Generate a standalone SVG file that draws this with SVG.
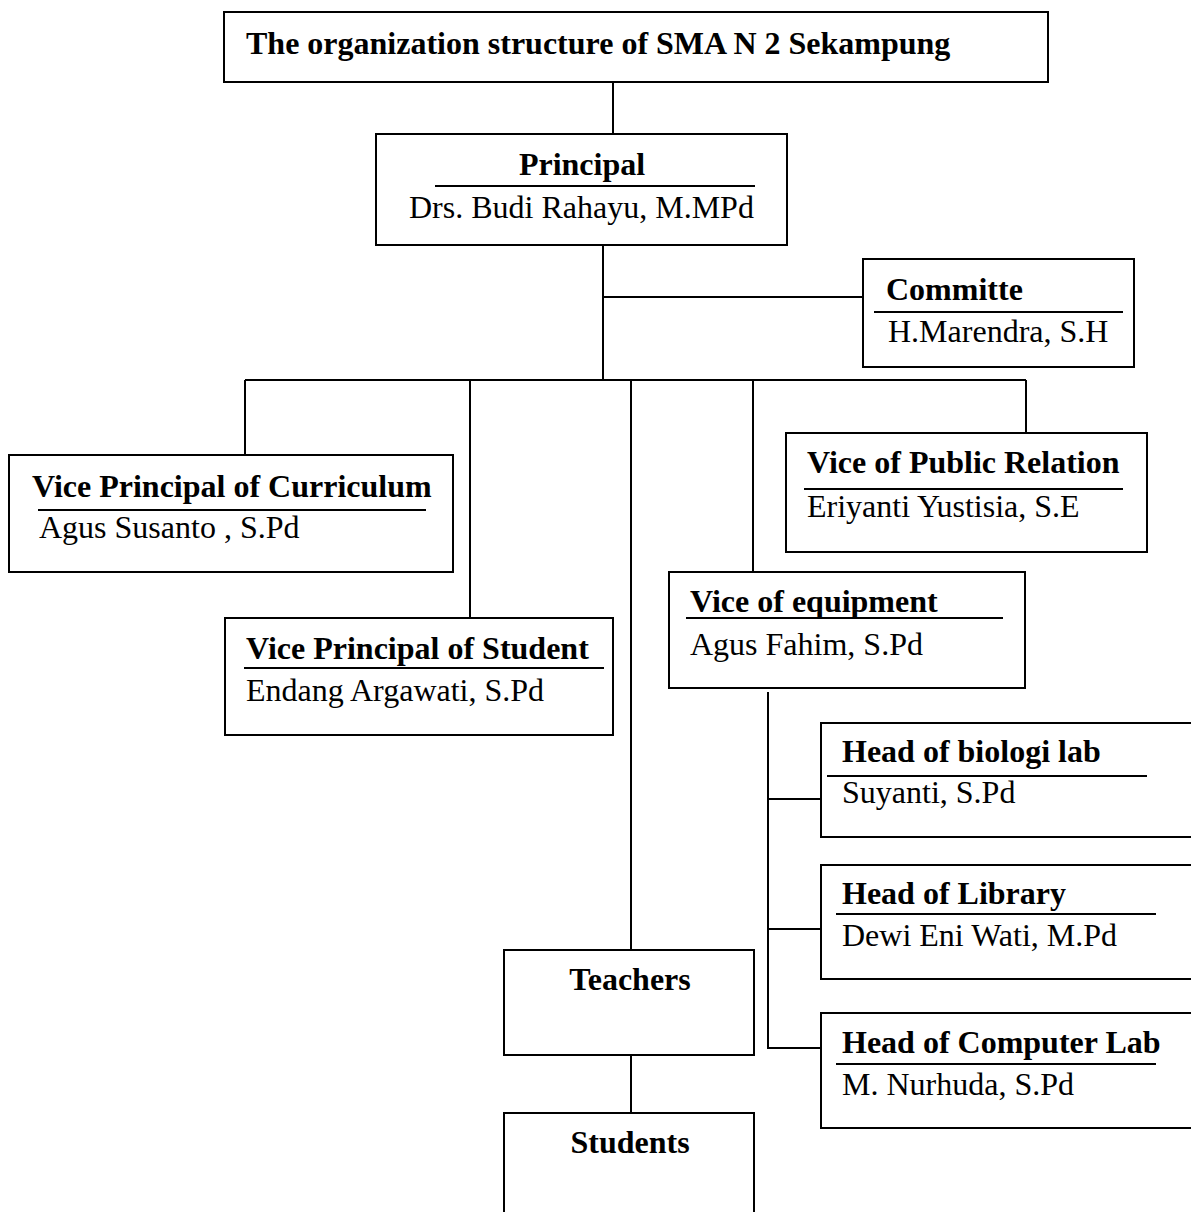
<svg xmlns="http://www.w3.org/2000/svg" width="1191" height="1212" viewBox="0 0 1191 1212">
<style>
rect.box{fill:#fff;stroke:#000;stroke-width:2}
.c line,.c polyline{stroke:#000;stroke-width:2;fill:none}
line.u{stroke:#000;stroke-width:2}
text{font-family:"Liberation Serif","Times New Roman",serif;font-size:32px;fill:#000}
text.b{font-weight:bold}
</style>
<rect width="1191" height="1212" fill="#fff"/>
<g class="c" id="connectors">
<line x1="613" y1="82" x2="613" y2="134"/>
<line x1="603" y1="245" x2="603" y2="380"/>
<line x1="603" y1="297" x2="863" y2="297"/>
<line x1="245" y1="380" x2="1026" y2="380"/>
<line x1="245" y1="380" x2="245" y2="455"/>
<line x1="470" y1="380" x2="470" y2="618"/>
<line x1="631" y1="380" x2="631" y2="950"/>
<line x1="753" y1="380" x2="753" y2="572"/>
<line x1="1026" y1="380" x2="1026" y2="433"/>
<line x1="631" y1="1055" x2="631" y2="1113"/>
<polyline points="768,692 768,1048 821,1048"/>
<line x1="768" y1="799" x2="821" y2="799"/>
<line x1="768" y1="929" x2="821" y2="929"/>
</g>
<g id="title">
<rect class="box" x="224" y="12" width="824" height="70"/>
<text class="b" x="246" y="54">The organization structure of SMA N 2 Sekampung</text>
</g>
<g id="principal">
<rect class="box" x="376" y="134" width="411" height="111"/>
<text class="b" x="582" y="175" text-anchor="middle">Principal</text>
<line class="u" x1="435" y1="186" x2="755" y2="186"/>
<text x="409" y="218">Drs. Budi Rahayu, M.MPd</text>
</g>
<g id="committe">
<rect class="box" x="863" y="259" width="271" height="108"/>
<text class="b" x="886" y="300">Committe</text>
<line class="u" x1="874" y1="312" x2="1123" y2="312"/>
<text x="888" y="342">H.Marendra, S.H</text>
</g>
<g id="vp-curriculum">
<rect class="box" x="9" y="455" width="444" height="117"/>
<text class="b" x="32" y="497">Vice Principal of Curriculum</text>
<line class="u" x1="38" y1="510" x2="426" y2="510"/>
<text x="39" y="538">Agus Susanto , S.Pd</text>
</g>
<g id="vp-public-relation">
<rect class="box" x="786" y="433" width="361" height="119"/>
<text class="b" x="807" y="473">Vice of Public Relation</text>
<line class="u" x1="804" y1="489" x2="1123" y2="489"/>
<text x="807" y="517">Eriyanti Yustisia, S.E</text>
</g>
<g id="vp-student">
<rect class="box" x="225" y="618" width="388" height="117"/>
<text class="b" x="246" y="659">Vice Principal of Student</text>
<line class="u" x1="244" y1="668" x2="604" y2="668"/>
<text x="246" y="701">Endang Argawati, S.Pd</text>
</g>
<g id="vp-equipment">
<rect class="box" x="669" y="572" width="356" height="116"/>
<text class="b" x="690" y="612">Vice of equipment</text>
<line class="u" x1="686" y1="618" x2="1003" y2="618"/>
<text x="690" y="655">Agus Fahim, S.Pd</text>
</g>
<g id="head-biologi">
<rect class="box" x="821" y="723" width="380" height="114"/>
<text class="b" x="842" y="762">Head of biologi lab</text>
<line class="u" x1="827" y1="776" x2="1147" y2="776"/>
<text x="842" y="803">Suyanti, S.Pd</text>
</g>
<g id="head-library">
<rect class="box" x="821" y="865" width="380" height="114"/>
<text class="b" x="842" y="904">Head of Library</text>
<line class="u" x1="836" y1="914" x2="1156" y2="914"/>
<text x="842" y="946">Dewi Eni Wati, M.Pd</text>
</g>
<g id="head-computer">
<rect class="box" x="821" y="1013" width="380" height="115"/>
<text class="b" x="842" y="1053">Head of Computer Lab</text>
<line class="u" x1="836" y1="1064" x2="1156" y2="1064"/>
<text x="842" y="1095">M. Nurhuda, S.Pd</text>
</g>
<g id="teachers">
<rect class="box" x="504" y="950" width="250" height="105"/>
<text class="b" x="630" y="990" text-anchor="middle">Teachers</text>
</g>
<g id="students">
<rect class="box" x="504" y="1113" width="250" height="120"/>
<text class="b" x="630" y="1153" text-anchor="middle">Students</text>
</g>
</svg>
